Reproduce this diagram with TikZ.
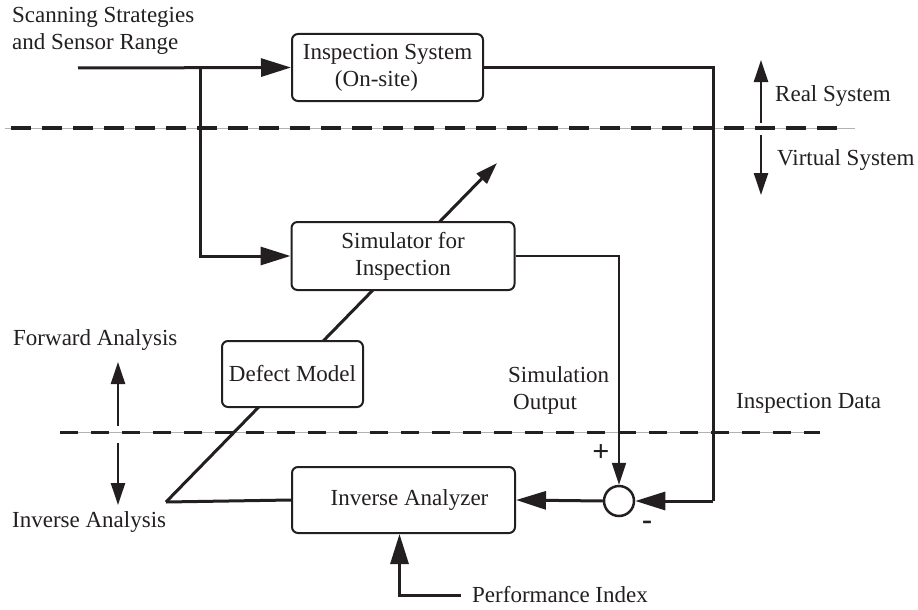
\documentclass[tikz,border=0pt]{standalone}
\usepackage{fontspec}
\setmainfont{Liberation Serif}
\usetikzlibrary{arrows.meta}
\definecolor{ink}{RGB}{35,31,32}
\begin{document}
\begin{tikzpicture}[x=1pt,y=-1pt,
  font=\fontsize{23}{27}\selectfont,
  box/.style={draw=ink, line width=2pt, rounded corners=6pt, fill=white, align=center, inner sep=0pt, text=ink},
  thickln/.style={draw=ink, line width=3pt},
  thinln/.style={draw=ink, line width=2pt},
  bigtip/.style={-{Triangle[length=30pt,width=18pt]}},
  smalltip/.style={-{Triangle[length=22pt,width=14pt]}},
  lbl/.style={text=ink, inner sep=0pt},
  sepline/.style={draw=black!30, line width=0.8pt},
  sepdash/.style={draw=ink, line width=3.5pt, dash pattern=on 20pt off 11pt},
]
\useasboundingbox (0,0) rectangle (918,610);

% separators
\coordinate (s1a) at (5,128);  \coordinate (s1b) at (855,128);
\coordinate (s1c) at (11,128); \coordinate (s1d) at (845,128);
\coordinate (s2a) at (60,432); \coordinate (s2b) at (820,432);
\draw[sepline] (s1a) -- (s1b);
\draw[sepdash] (s1c) -- (s1d);
\draw[sepline] (s2a) -- (s2b);
\draw[sepdash, line width=3pt, dash pattern=on 18pt off 13pt] (s2a) -- (s2b);

% diagonal defect line (behind boxes)
\coordinate (ia) at (166,502);
\coordinate (dtip) at (497,163);
\draw[thickln, smalltip] (ia) -- (dtip);

% boxes
\node[box, minimum width=191pt, minimum height=67pt] (insp) at (387.5,67.5)
  {Inspection System\\(On-site)\hspace*{22pt}};
\node[box, minimum width=223pt, minimum height=68pt] (sim) at (403,256)
  {Simulator for\\Inspection};
\node[box, minimum width=141pt, minimum height=66pt] (defect) at (292.5,374)
  {Defect Model};
\node[box, minimum width=223pt, minimum height=66pt] (inv) at (403.5,500)
  {\hspace*{12pt}Inverse Analyzer};
\node[draw=ink, circle, line width=2.5pt, minimum size=30pt, inner sep=0pt, fill=white] (sum) at (619,501) {};

% connectors
\coordinate (in) at (78,68);
\coordinate (j) at (200,68);
\coordinate (rc) at (713,501);
\coordinate (perf) at (461,595);
\draw[thickln, bigtip] (in) -- (insp.west);
\draw[thickln, bigtip] (j) |- (sim.west);
\draw[thickln] (insp.east) -| (rc);
\draw[thickln, bigtip] (rc) -- (sum.east);
\draw[thinln, smalltip] (sim.east) -| (sum.north);
\draw[thickln, bigtip] (sum.west) -- (inv.east);
\draw[thickln, bigtip] (perf) -| ([xshift=-4pt]inv.south);
\draw[thickln] (ia) -- (inv.west);

% up/down arrows
\coordinate (ru0) at (761,123); \coordinate (ru1) at (761,60);
\coordinate (vd0) at (761,135); \coordinate (vd1) at (761,195);
\coordinate (fu0) at (118,426); \coordinate (fu1) at (118,362);
\coordinate (id0) at (118,443); \coordinate (id1) at (118,505);
\draw[draw=ink, line width=2.5pt, smalltip] (ru0) -- (ru1);
\draw[draw=ink, line width=2.5pt, smalltip] (vd0) -- (vd1);
\draw[draw=ink, line width=2.5pt, smalltip] (fu0) -- (fu1);
\draw[draw=ink, line width=2.5pt, smalltip] (id0) -- (id1);

% labels
\node[lbl, align=left, anchor=north west] (scan) at (12,7.5)
  {Scanning Strategies\\and Sensor Range};
\node[lbl, anchor=base west] (real) at (775,101) {Real System};
\node[lbl, anchor=base west] (virt) at (777,165) {Virtual System};
\node[lbl, anchor=base west] (fwd) at (13,345) {Forward Analysis};
\node[lbl, anchor=base west] (inva) at (12,527) {Inverse Analysis};
\node[lbl, align=left, anchor=north west] (simout) at (508,366.5)
  {Simulation\\\hspace*{5pt}Output};
\node[lbl, anchor=base west] (idata) at (736,408) {Inspection Data};
\node[lbl, anchor=base west] (pidx) at (472,602) {Performance Index};
\node[lbl, font=\fontsize{30}{30}\selectfont\bfseries] (plus) at (601,453) {+};
\node[lbl, font=\fontsize{30}{30}\selectfont\bfseries] (minus) at (647,525) {-};
\end{tikzpicture}
\end{document}
